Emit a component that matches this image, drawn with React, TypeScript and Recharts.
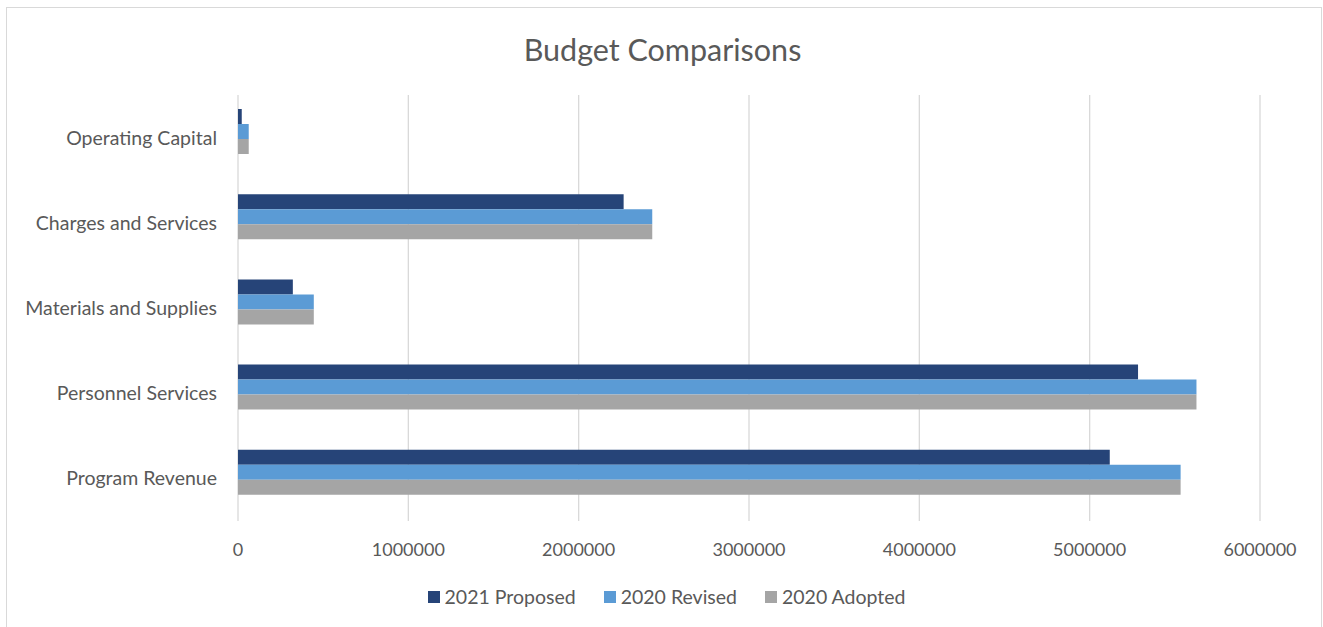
import React from "react";
import { BarChart, Bar, XAxis, YAxis, CartesianGrid } from "recharts";

const categories = [
  "Operating Capital",
  "Charges and Services",
  "Materials and Supplies",
  "Personnel Services",
  "Program Revenue",
];
const proposed2021 = [22000, 2264000, 322000, 5284000, 5118000];
const revised2020 = [63000, 2432000, 445000, 5627000, 5534000];
const adopted2020 = [63000, 2432000, 445000, 5627000, 5534000];
const xTicks = [0, 1000000, 2000000, 3000000, 4000000, 5000000, 6000000];

const seriesNames = ["2021 Proposed", "2020 Revised", "2020 Adopted"];
const seriesColors = ["#264478", "#5B9BD5", "#A5A5A5"];

const data = categories.map((c, i) => ({
  name: c,
  p21: proposed2021[i],
  r20: revised2020[i],
  a20: adopted2020[i],
}));

const FONT = "Lato, 'Open Sans', sans-serif";
const TEXT = "#595959";

function LegendBlock() {
  return (
    <div style={{ position: "absolute", left: 0, top: 585, width: 1323, display: "flex", justifyContent: "center", fontFamily: FONT, fontSize: 19.5, color: TEXT, paddingLeft: 10, boxSizing: "border-box" }}>
      {seriesNames.map((n, i) => (
        <div key={i} style={{ display: "flex", alignItems: "center", marginRight: i < seriesNames.length - 1 ? 28 : 0 }}>
          <span style={{ display: "inline-block", width: 12, height: 12, background: seriesColors[i], marginRight: 5 }} />
          <span>{n}</span>
        </div>
      ))}
    </div>
  );
}

export default function App() {
  return (
    <div style={{ position: "absolute", left: 0, top: 0, width: 1323, height: 627, overflow: "hidden", background: "#fff" }}>
      <div style={{ position: "absolute", left: 6, top: 7, width: 1316, height: 660, border: "1px solid #d9d9d9", boxSizing: "border-box" }} />
      <div style={{ position: "absolute", left: 0, top: 31, width: 1323, textAlign: "center", fontFamily: FONT, fontSize: 30.5, color: TEXT, paddingLeft: 2, boxSizing: "border-box" }}>
        Budget Comparisons
      </div>
      <div style={{ position: "absolute", left: 0, top: 0 }}>
        <BarChart
          layout="vertical"
          width={1323}
          height={627}
          data={data}
          margin={{ top: 89, right: 63, bottom: 111, left: 0 }}
          barGap={0}
        >
          <CartesianGrid horizontal={false} vertical={true} stroke="#d9d9d9" strokeWidth={1.3} y={95} height={426} />
          <XAxis
            type="number"
            domain={[0, 6000000]}
            ticks={xTicks}
            interval={0}
            axisLine={false}
            tickLine={false}
            tickSize={0}
            tickMargin={28}
            tick={{ fontFamily: FONT, fontSize: 18, fill: TEXT }}
            height={1}
          />
          <YAxis
            type="category"
            dataKey="name"
            width={238}
            axisLine={false}
            tickLine={false}
            tickSize={0}
            tickMargin={21}
            tick={{ fontFamily: FONT, fontSize: 19.5, fill: TEXT, dy: 6 }}
          />
          {seriesNames.map((n, i) => (
            <Bar
              key={n}
              dataKey={["p21", "r20", "a20"][i]}
              name={n}
              fill={seriesColors[i]}
              barSize={15}
              isAnimationActive={false}
            />
          ))}
        </BarChart>
      </div>
      <LegendBlock />
    </div>
  );
}
